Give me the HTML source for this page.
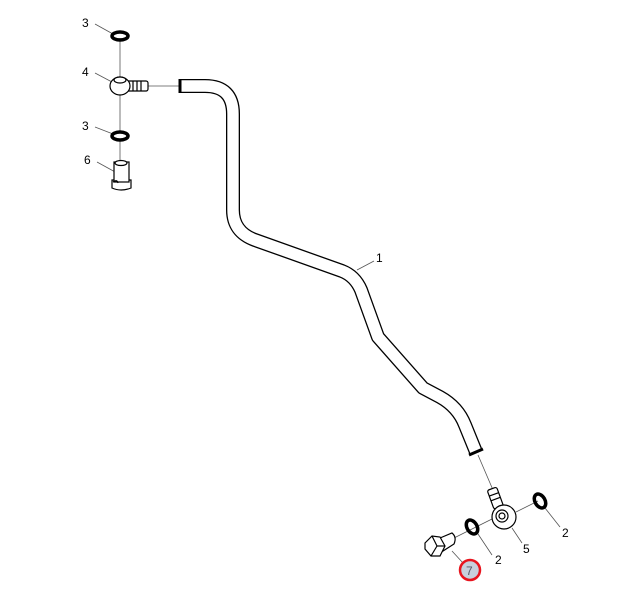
<!DOCTYPE html>
<html><head><meta charset="utf-8"><style>
html,body{margin:0;padding:0;background:#fff;}
svg{display:block}
text{font-family:"Liberation Sans",sans-serif;font-size:12px;fill:#000}
</style></head><body>
<svg width="632" height="600" viewBox="0 0 632 600" xmlns="http://www.w3.org/2000/svg">
<g stroke="#555" stroke-width="0.8" fill="none">
<line x1="120" y1="38" x2="120" y2="132"/>
<line x1="120" y1="140" x2="120" y2="162"/>
<line x1="148" y1="86" x2="180" y2="86"/>
<line x1="478" y1="455" x2="493" y2="490"/>
<line x1="516" y1="512" x2="538" y2="501"/>
<line x1="450" y1="540" x2="500" y2="515"/>
<line x1="95" y1="24" x2="113" y2="34"/>
<line x1="95" y1="73" x2="112" y2="82"/>
<line x1="95" y1="127" x2="113" y2="134"/>
<line x1="97" y1="162" x2="117" y2="173"/>
<line x1="357" y1="270" x2="374" y2="261"/>
<line x1="545" y1="508" x2="560" y2="527"/>
<line x1="512" y1="528" x2="522" y2="543"/>
<line x1="478" y1="534" x2="492" y2="555"/>
<line x1="452" y1="551" x2="463" y2="563"/>
</g>
<path d="M181,86 L205,86 Q233,86 233,114 L233,210 Q233,232 255,240 L342,271 Q355,276 361,290 L378,337 L423,388 L440,397 Q458,407 465,425 L476,452" fill="none" stroke="#000" stroke-width="14" stroke-linejoin="round"/>
<path d="M181,86 L205,86 Q233,86 233,114 L233,210 Q233,232 255,240 L342,271 Q355,276 361,290 L378,337 L423,388 L440,397 Q458,407 465,425 L476,452" fill="none" stroke="#fff" stroke-width="11.4" stroke-linejoin="round"/>
<line x1="180" y1="79" x2="180" y2="93" stroke="#000" stroke-width="3"/>
<line x1="469" y1="455" x2="483" y2="449" stroke="#000" stroke-width="3"/>
<ellipse cx="120" cy="36" rx="8" ry="4" fill="none" stroke="#000" stroke-width="3.5"/>
<ellipse cx="120" cy="136" rx="8" ry="4" fill="none" stroke="#000" stroke-width="3.5"/>
<g stroke="#000" stroke-width="1.2" fill="#fff">
<rect x="126" y="81" width="22" height="10" rx="2"/>
<line x1="133" y1="81" x2="133" y2="91"/><line x1="137" y1="81" x2="137" y2="91"/><line x1="141" y1="81" x2="141" y2="91"/>
<ellipse cx="120" cy="86" rx="10" ry="9"/>
<ellipse cx="120" cy="80" rx="6" ry="3"/>
</g>
<g stroke="#000" stroke-width="1.2" fill="#fff">
<path d="M112,180 L131,180 L131,188 Q121,192 112,188 Z"/>
<rect x="114" y="162" width="15" height="20"/>
<ellipse cx="121" cy="163" rx="6" ry="2.5"/>
<path d="M113,182 q4,-3 5,1" fill="none"/>
</g>
<g stroke="#000" stroke-width="1.2" fill="#fff">
<g transform="rotate(-20 496 500)">
<rect x="491" y="488" width="10" height="20" rx="2"/>
<line x1="491" y1="494" x2="501" y2="494"/><line x1="491" y1="499" x2="501" y2="499"/>
</g>
<circle cx="504" cy="517" r="12"/>
<circle cx="502" cy="516" r="6"/>
<circle cx="502" cy="516" r="3"/>
</g>
<ellipse cx="540" cy="501" rx="5" ry="7.5" transform="rotate(-30 540 501)" fill="none" stroke="#000" stroke-width="3.5"/>
<ellipse cx="472" cy="527" rx="5" ry="7.5" transform="rotate(-30 472 527)" fill="none" stroke="#000" stroke-width="3.5"/>
<g stroke="#000" stroke-width="1.2" fill="#fff">
<path d="M440,538 L452,533 Q457,537 454,544 L443,551 Z"/>
<polygon points="425,543 432,536 440,537 445,546 440,556 431,556 425,549"/>
<line x1="432" y1="536" x2="437" y2="546"/><line x1="437" y1="546" x2="431" y2="556"/><line x1="437" y1="546" x2="445" y2="546"/>
</g>
<circle cx="470" cy="570" r="10" fill="#c8d0dc" stroke="#e8141e" stroke-width="2.5"/>
<text x="466" y="575" style="fill:#556">7</text>
<text x="82" y="27">3</text>
<text x="82" y="76">4</text>
<text x="82" y="130">3</text>
<text x="84" y="164">6</text>
<text x="376" y="262">1</text>
<text x="562" y="537">2</text>
<text x="523" y="553">5</text>
<text x="495" y="564">2</text>
</svg>
</body></html>
